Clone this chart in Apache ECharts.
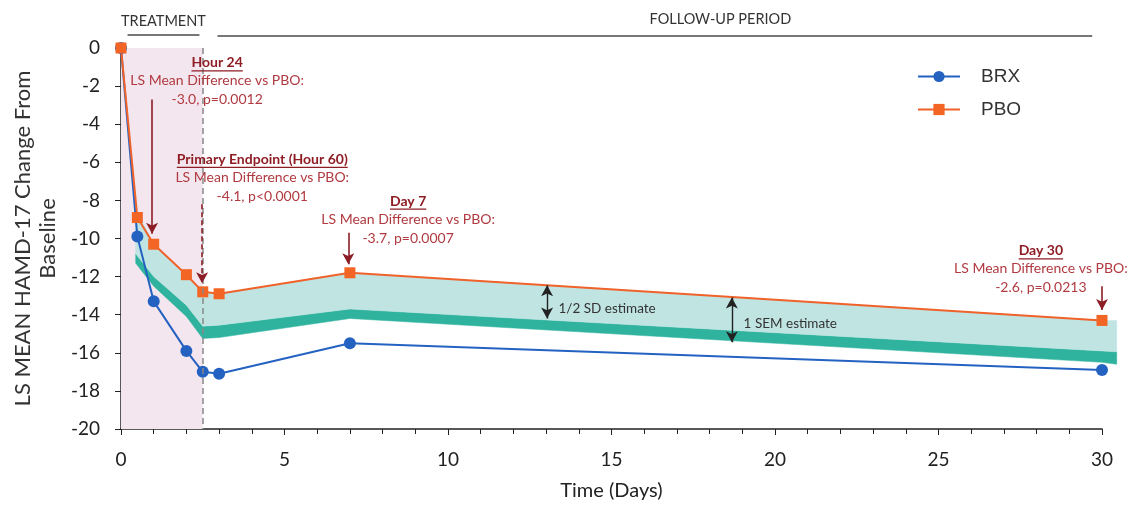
<!DOCTYPE html>
<html><head><meta charset="utf-8">
<script src="https://cdn.jsdelivr.net/npm/echarts@6/dist/echarts.min.js"></script>
<style>html,body{margin:0;padding:0;background:#fff}#c{width:1129px;height:506px}</style>
</head><body><div id="c"></div>
<script>
// ---------- data ----------
const days = [0, 0.5, 1, 2, 2.5, 3, 7, 30];
const brx  = [0, -9.9, -13.3, -15.9, -17.0, -17.1, -15.5, -16.9];
const pbo  = [0, -8.9, -10.3, -11.9, -12.8, -12.9, -11.8, -14.3];

// shaded estimate band (top = PBO, 1/2 SD lower edge, 1 SEM lower edge)
const bandDays = [0.45, 1, 2, 2.5, 3, 7, 30, 30.45];
const bandTop  = [-8.4, -10.3, -11.9, -12.8, -12.9, -11.8, -14.3, -14.3];
const sdLower  = [-10.8, -12.0, -13.5, -14.6, -14.55, -13.7, -15.9, -15.95];
const semLower = [-11.3, -12.5, -14.1, -15.25, -15.2, -14.2, -16.5, -16.6];

const xTickLabels = [0, 5, 10, 15, 20, 25, 30];
const yTickLabels = [0, -2, -4, -6, -8, -10, -12, -14, -16, -18, -20];
const treatmentEnd = 2.5;

const periods = [
  {name: 'TREATMENT', lineFrom: 0.2, lineTo: 2.4},
  {name: 'FOLLOW-UP PERIOD', lineFrom: 2.95, lineTo: 29.7}
];

const annotations = [
  {title: 'Hour 24', text1: 'LS Mean Difference vs PBO:', text2: '-3.0, p=0.0012', day: 0.95, from: -2.7, to: -9.75},
  {title: 'Primary Endpoint (Hour 60)', text1: 'LS Mean Difference vs PBO:', text2: '-4.1, p<0.0001', day: 2.48, from: -8.2, to: -12.35},
  {title: 'Day 7', text1: 'LS Mean Difference vs PBO:', text2: '-3.7, p=0.0007', day: 6.95, from: -9.7, to: -11.35},
  {title: 'Day 30', text1: 'LS Mean Difference vs PBO:', text2: '-2.6, p=0.0213', day: 30, from: -12.5, to: -13.75}
];
const estimates = [
  {label: '1/2 SD estimate', day: 13.03, from: -12.45, to: -14.2},
  {label: '1 SEM estimate', day: 18.68, from: -13.1, to: -15.45}
];

// ---------- layout (positions in axis units) ----------
const annoLayout = [
  {cx: 2.94, cy: -0.78},
  {cx: 4.32, cy: -5.85},
  {cx: 8.78, cy: -8.04},
  {cx: 28.13, cy: -10.65}
];
const estLayout = [{x: 13.38, y: -13.68}, {x: 19.04, y: -14.46}];
const periodLayout = [{textX: 0, textY: 1.41, align: 'left', lineY: 0.68}, {textX: 18.33, textY: 1.51, align: 'center', lineY: 0.63}];

const FONT = 'Lato, "Open Sans", sans-serif';
const zip = (a, b) => a.map((v, i) => [v, b[i]]);

const chart = echarts.init(document.getElementById('c'));

const arrowLines = [];
annotations.forEach((a, i) => {
  arrowLines.push([
    {coord: [a.day, a.from], symbol: 'none', lineStyle: {color: '#8b1d24', width: 1.6, type: i === 1 ? [5, 3] : 'solid'}},
    {coord: [a.day, a.to], symbol: 'arrow'}
  ]);
});
estimates.forEach(e => {
  arrowLines.push([
    {coord: [e.day, e.from], symbol: 'arrow', lineStyle: {color: '#222', width: 1.4, type: 'solid'}},
    {coord: [e.day, e.to], symbol: 'arrow'}
  ]);
});

// band layers: [upper edge, lower edge, colour]
const bandLayers = [
  {upper: sdLower, lower: semLower, color: '#2fb39e'},
  {upper: bandTop, lower: sdLower, color: '#bfe4e2'}
];

function renderBand(params, api) {
  const layer = bandLayers[params.dataIndex];
  const pts = [];
  for (let i = 0; i < bandDays.length; i++) pts.push(api.coord([bandDays[i], layer.upper[i]]));
  for (let i = bandDays.length - 1; i >= 0; i--) pts.push(api.coord([bandDays[i], layer.lower[i]]));
  return {type: 'polygon', shape: {points: pts}, style: {fill: layer.color, stroke: layer.color, lineWidth: 0.5}};
}

const option = {
  animation: false,
  grid: {left: 121, right: 27, top: 48, bottom: 75},
  legend: {
    data: ['BRX', 'PBO'], orient: 'vertical', left: 912, top: 62,
    itemWidth: 42, itemHeight: 14, itemGap: 14,
    textStyle: {fontFamily: '"Liberation Sans", Arial, sans-serif', fontSize: 19, color: '#333', padding: [0, 0, 0, 16]}
  },
  xAxis: {
    type: 'value', min: 0, max: 30, interval: 5,
    name: 'Time (Days)', nameLocation: 'middle', nameGap: 52,
    nameTextStyle: {fontFamily: FONT, fontSize: 20, color: '#222'},
    axisLine: {show: true, onZero: false, lineStyle: {color: '#222', width: 1.5}},
    axisTick: {show: true, length: 6, lineStyle: {color: '#222'}},
    minorTick: {show: true, splitNumber: 5, length: 5, lineStyle: {color: '#222'}},
    splitLine: {show: false},
    axisLabel: {fontFamily: FONT, fontSize: 19, color: '#222', margin: 21,
      formatter: v => (xTickLabels.indexOf(v) >= 0 ? String(v) : '')}
  },
  yAxis: {
    type: 'value', min: -20, max: 0, interval: 2,
    name: 'LS MEAN HAMD-17 Change From\nBaseline', nameLocation: 'middle', nameGap: 58,
    nameTextStyle: {fontFamily: FONT, fontSize: 22, color: '#333', lineHeight: 25},
    axisLine: {show: true, onZero: false, lineStyle: {color: '#222', width: 1.5}},
    axisTick: {show: true, length: 6, lineStyle: {color: '#222'}},
    splitLine: {show: false},
    axisLabel: {fontFamily: FONT, fontSize: 19, color: '#222', margin: 21,
      formatter: v => (yTickLabels.indexOf(v) >= 0 ? String(v) : '')}
  },
  series: [
    {
      name: 'marks', type: 'line', data: [[0, 0]], symbol: 'none', lineStyle: {opacity: 0}, silent: true, z: 1,
      markArea: {silent: true, itemStyle: {color: '#f4e6ee'}, data: [[{xAxis: 0, yAxis: 0}, {xAxis: treatmentEnd, yAxis: -20}]]},
      markLine: {
        silent: true, symbol: ['none', 'none'], label: {show: false}, animation: false,
        symbolSize: [9, 11],
        data: [
          [{coord: [treatmentEnd, 0], lineStyle: {color: '#888', width: 1.5, type: [6, 4]}}, {coord: [treatmentEnd, -20]}]
        ].concat(arrowLines)
      }
    },
    {
      name: 'band', type: 'custom', renderItem: renderBand, silent: true, z: 2, clip: false,
      data: bandLayers.map(() => [15, -14]), encode: {x: 0, y: 1}
    },
    {name: 'BRX', type: 'line', data: zip(days, brx), symbol: 'circle', symbolSize: 12,
      lineStyle: {color: '#2462c2', width: 2}, itemStyle: {color: '#2462c2'}, z: 4},
    {name: 'PBO', type: 'line', data: zip(days, pbo), symbol: 'rect', symbolSize: 11,
      lineStyle: {color: '#f0622a', width: 2}, itemStyle: {color: '#f26524'}, z: 4}
  ]
};
chart.setOption(option);

// ---------- text annotations placed through the axes ----------
const ctx = document.createElement('canvas').getContext('2d');
function textWidth(t, font) { ctx.font = font; return ctx.measureText(t).width; }
const px = (x, y) => chart.convertToPixel({gridIndex: 0}, [x, y]);

const graphics = [];
const HEAD_FONT = 'bold 14px ' + FONT;
const BODY_FONT = '14px ' + FONT;
annotations.forEach((a, i) => {
  const p = px(annoLayout[i].cx, annoLayout[i].cy);
  const cx = p[0], cy = p[1];
  const w = textWidth(a.title, HEAD_FONT);
  graphics.push({type: 'text', x: cx, y: cy, style: {text: a.title, font: HEAD_FONT, fill: '#8e1d24', align: 'center', verticalAlign: 'middle'}, z: 10});
  graphics.push({type: 'line', shape: {x1: cx - w / 2, y1: cy + 8, x2: cx + w / 2, y2: cy + 8}, style: {stroke: '#8e1d24', lineWidth: 1.2}, z: 10});
  graphics.push({type: 'text', x: cx, y: cy + 18, style: {text: a.text1, font: BODY_FONT, fill: '#b03a40', align: 'center', verticalAlign: 'middle'}, z: 10});
  graphics.push({type: 'text', x: cx, y: cy + 37, style: {text: a.text2, font: BODY_FONT, fill: '#b03a40', align: 'center', verticalAlign: 'middle'}, z: 10});
});
estimates.forEach((e, i) => {
  const p = px(estLayout[i].x, estLayout[i].y);
  graphics.push({type: 'text', x: p[0], y: p[1], style: {text: e.label, font: '13.5px ' + FONT, fill: '#333', align: 'left', verticalAlign: 'middle'}, z: 10});
});
periods.forEach((pd, i) => {
  const L = periodLayout[i];
  const t = px(L.textX, L.textY);
  graphics.push({type: 'text', x: t[0], y: t[1], style: {text: pd.name, font: '14.5px ' + FONT, fill: '#333', align: L.align, verticalAlign: 'middle'}, z: 10});
  const a = px(pd.lineFrom, L.lineY), b = px(pd.lineTo, L.lineY);
  graphics.push({type: 'line', shape: {x1: a[0], y1: a[1], x2: b[0], y2: b[1]}, style: {stroke: '#777', lineWidth: 2}, z: 10});
});
chart.setOption({graphic: graphics});
</script></body></html>
